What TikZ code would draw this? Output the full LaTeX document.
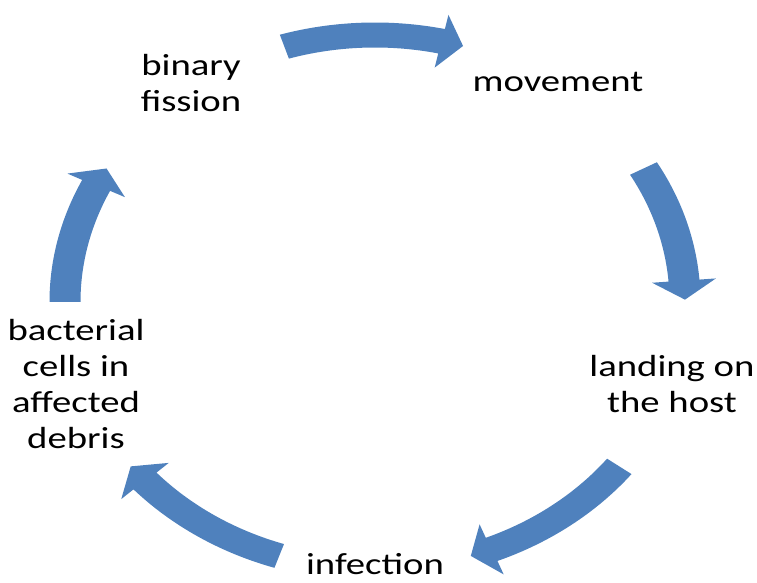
\documentclass[tikz,border=0pt]{standalone}
\usepackage{fontspec}
\setmainfont{Carlito}[FakeStretch=1.27]
\usetikzlibrary{calc}
\definecolor{arrowblue}{RGB}{79,129,189}
\tikzset{
  lbl/.style={align=center, font=\fontsize{30.5}{35.8}\selectfont, text=black, inner sep=0pt},
  cyc/.style={fill=arrowblue, draw=none}
}
% #1 = tail angle, #2 = tip angle (parametric angles on the ellipse round C)
\newcommand\cycarrow[2]{%
  \pgfmathsetmacro\tbase{#2+4.1}%
  \fill[cyc] ($(C)+(#1:325.5pt and 279.5pt)$)
    arc[start angle=#1, end angle=\tbase, x radius=325.5pt, y radius=279.5pt]
    -- ($(C)+(\tbase:342pt and 294pt)$)
    -- ($(C)+(#2:310pt and 267pt)$)
    -- ($(C)+(\tbase:278pt and 240pt)$)
    -- ($(C)+(\tbase:294.5pt and 254.5pt)$)
    arc[start angle=\tbase, end angle=#1, x radius=294.5pt, y radius=254.5pt]
    -- cycle;}
\begin{document}
\begin{tikzpicture}[x=1pt, y=1pt]
\useasboundingbox (0,0) rectangle (757,583);
\coordinate (C) at (375,281);
\node[lbl] (bf) at (191,500) {binary\\fission};
\node[lbl] (mv) at (558,501) {movement};
\node[lbl] (lh) at (672,199) {landing on\\the host};
\node[lbl] (inf) at (375,18.5) {infection};
\node[lbl] (bc) at (76,199) {bacterial\\cells in\\affected\\debris};
\cycarrow{107}{73.5}
\cycarrow{30}{0.5}
\cycarrow{-38}{-72}
\cycarrow{-108}{-142}
\cycarrow{180}{150}
\end{tikzpicture}
\end{document}
